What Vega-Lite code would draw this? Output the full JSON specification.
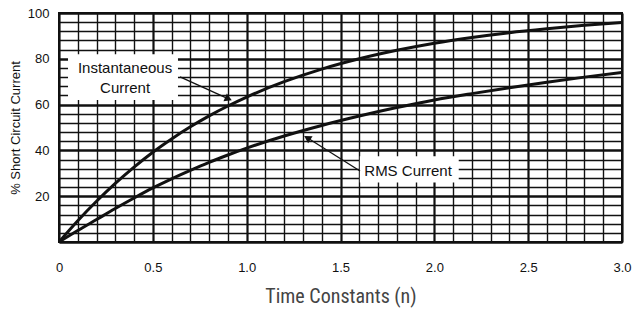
{
  "$schema": "https://vega.github.io/schema/vega-lite/v6.json",
  "width": 563,
  "height": 229,
  "autosize": {"type": "none"},
  "padding": {"left": 59, "top": 13, "right": 16, "bottom": 76},
  "background": "white",
  "config": {
    "view": {"stroke": "#111", "strokeWidth": 2},
    "font": "Liberation Sans"
  },
  "datasets": {
    "curves": [
      {"n": 0, "pct": 0, "series": "Instantaneous"},
      {"n": 0.1, "pct": 9.3, "series": "Instantaneous"},
      {"n": 0.2, "pct": 17.8, "series": "Instantaneous"},
      {"n": 0.3, "pct": 25.6, "series": "Instantaneous"},
      {"n": 0.4, "pct": 32.7, "series": "Instantaneous"},
      {"n": 0.5, "pct": 39.2, "series": "Instantaneous"},
      {"n": 0.6, "pct": 45.0, "series": "Instantaneous"},
      {"n": 0.7, "pct": 50.3, "series": "Instantaneous"},
      {"n": 0.8, "pct": 55.1, "series": "Instantaneous"},
      {"n": 0.9, "pct": 59.4, "series": "Instantaneous"},
      {"n": 1.0, "pct": 63.3, "series": "Instantaneous"},
      {"n": 1.2, "pct": 70.0, "series": "Instantaneous"},
      {"n": 1.4, "pct": 75.5, "series": "Instantaneous"},
      {"n": 1.6, "pct": 80.0, "series": "Instantaneous"},
      {"n": 1.8, "pct": 83.7, "series": "Instantaneous"},
      {"n": 2.0, "pct": 86.8, "series": "Instantaneous"},
      {"n": 2.2, "pct": 89.3, "series": "Instantaneous"},
      {"n": 2.4, "pct": 91.4, "series": "Instantaneous"},
      {"n": 2.6, "pct": 93.1, "series": "Instantaneous"},
      {"n": 2.8, "pct": 94.6, "series": "Instantaneous"},
      {"n": 3.0, "pct": 95.8, "series": "Instantaneous"},
      {"n": 0, "pct": 0, "series": "RMS"},
      {"n": 0.1, "pct": 5.0, "series": "RMS"},
      {"n": 0.2, "pct": 9.8, "series": "RMS"},
      {"n": 0.3, "pct": 14.6, "series": "RMS"},
      {"n": 0.4, "pct": 19.2, "series": "RMS"},
      {"n": 0.5, "pct": 23.6, "series": "RMS"},
      {"n": 0.6, "pct": 27.6, "series": "RMS"},
      {"n": 0.7, "pct": 31.3, "series": "RMS"},
      {"n": 0.8, "pct": 34.8, "series": "RMS"},
      {"n": 0.9, "pct": 38.0, "series": "RMS"},
      {"n": 1.0, "pct": 41.0, "series": "RMS"},
      {"n": 1.2, "pct": 46.3, "series": "RMS"},
      {"n": 1.4, "pct": 50.9, "series": "RMS"},
      {"n": 1.6, "pct": 55.0, "series": "RMS"},
      {"n": 1.8, "pct": 58.7, "series": "RMS"},
      {"n": 2.0, "pct": 62.0, "series": "RMS"},
      {"n": 2.2, "pct": 64.8, "series": "RMS"},
      {"n": 2.4, "pct": 67.4, "series": "RMS"},
      {"n": 2.6, "pct": 69.8, "series": "RMS"},
      {"n": 2.8, "pct": 72.0, "series": "RMS"},
      {"n": 3.0, "pct": 74.0, "series": "RMS"}
    ]
  },
  "layer": [
    {
      "data": {"name": "curves"},
      "mark": {"type": "line", "color": "#111", "strokeWidth": 3, "interpolate": "monotone"},
      "encoding": {
        "x": {
          "field": "n", "type": "quantitative",
          "scale": {"domain": [0, 3], "nice": false, "zero": false},
          "axis": {
            "title": "Time Constants (n)",
            "titleFont": "Liberation Sans Narrow, Roboto Condensed, DejaVu Sans Condensed, sans-serif",
            "titleFontWeight": "normal",
            "titleFontSize": 20,
            "titleColor": "#444",
            "titlePadding": 12,
            "tickCount": 200,
            "values": [0,0.1,0.2,0.3,0.4,0.5,0.6,0.7,0.8,0.9,1.0,1.1,1.2,1.3,1.4,1.5,1.6,1.7,1.8,1.9,2.0,2.1,2.2,2.3,2.4,2.5,2.6,2.7,2.8,2.9,3.0],
            "labelExpr": "abs(datum.value*2 - round(datum.value*2)) < 0.001 ? (datum.value == 0 ? '0' : format(datum.value, '.1f')) : ''",
            "labelFontSize": 13,
            "labelColor": "#111",
            "labelPadding": 19,
            "labelFlush": false,
            "labelOverlap": false,
            "ticks": false,
            "domain": false,
            "grid": true,
            "gridColor": "#111",
            "gridOpacity": 1,
            "gridWidth": {"condition": {"test": "abs(datum.value*2 - round(datum.value*2)) < 0.001", "value": 2.2}, "value": 1.4}
          }
        },
        "y": {
          "field": "pct", "type": "quantitative",
          "scale": {"domain": [0, 100], "nice": false},
          "axis": {
            "title": "% Short Circuit Current",
            "titleFontWeight": "normal",
            "titleFontSize": 13,
            "titleColor": "#111",
            "titlePadding": 5,
            "tickCount": 200,
            "values": [0,4,8,12,16,20,24,28,32,36,40,44,48,52,56,60,64,68,72,76,80,84,88,92,96,100],
            "labelExpr": "datum.value % 20 == 0 && datum.value > 0 ? format(datum.value, 'd') : ''",
            "labelFontSize": 13,
            "labelColor": "#111",
            "labelPadding": 10,
            "labelOverlap": false,
            "labelFlush": false,
            "ticks": false,
            "domain": false,
            "grid": true,
            "gridColor": "#111",
            "gridOpacity": 1,
            "gridWidth": {"condition": {"test": "datum.value % 20 == 0", "value": 2.4}, "value": 1.3}
          }
        },
        "detail": {"field": "series"}
      }
    },
    {
      "data": {"values": [
        {"x1": 0.048, "x2": 0.634, "y1": 62, "y2": 82},
        {"x1": 1.603, "x2": 2.13, "y1": 26, "y2": 37.5}
      ]},
      "mark": {"type": "rect", "fill": "white"},
      "encoding": {
        "x": {"field": "x1", "type": "quantitative"},
        "x2": {"field": "x2"},
        "y": {"field": "y1", "type": "quantitative"},
        "y2": {"field": "y2"}
      }
    },
    {
      "data": {"values": [
        {"x": 0.352, "y": 76.2, "label": "Instantaneous"},
        {"x": 0.352, "y": 67.4, "label": "Current"},
        {"x": 1.86, "y": 30.8, "label": "RMS Current"}
      ]},
      "mark": {"type": "text", "fontSize": 15, "color": "#111", "align": "center", "baseline": "middle"},
      "encoding": {
        "x": {"field": "x", "type": "quantitative"},
        "y": {"field": "y", "type": "quantitative"},
        "text": {"field": "label"}
      }
    },
    {
      "data": {"values": [
        {"x1": 0.645, "y1": 72.1, "x2": 0.903, "y2": 62.5},
        {"x1": 1.604, "y1": 31.0, "x2": 1.323, "y2": 45.5}
      ]},
      "mark": {"type": "rule", "color": "#111", "strokeWidth": 1.3},
      "encoding": {
        "x": {"field": "x1", "type": "quantitative"},
        "y": {"field": "y1", "type": "quantitative"},
        "x2": {"field": "x2"},
        "y2": {"field": "y2"}
      }
    },
    {
      "data": {"values": [{"x": 0.903, "y": 62.5}]},
      "mark": {"type": "point", "shape": "triangle-up", "filled": true, "color": "#111", "opacity": 1, "size": 70, "angle": 114},
      "encoding": {
        "x": {"field": "x", "type": "quantitative"},
        "y": {"field": "y", "type": "quantitative"}
      }
    },
    {
      "data": {"values": [{"x": 1.323, "y": 45.5}]},
      "mark": {"type": "point", "shape": "triangle-up", "filled": true, "color": "#111", "opacity": 1, "size": 70, "angle": 302},
      "encoding": {
        "x": {"field": "x", "type": "quantitative"},
        "y": {"field": "y", "type": "quantitative"}
      }
    }
  ]
}
